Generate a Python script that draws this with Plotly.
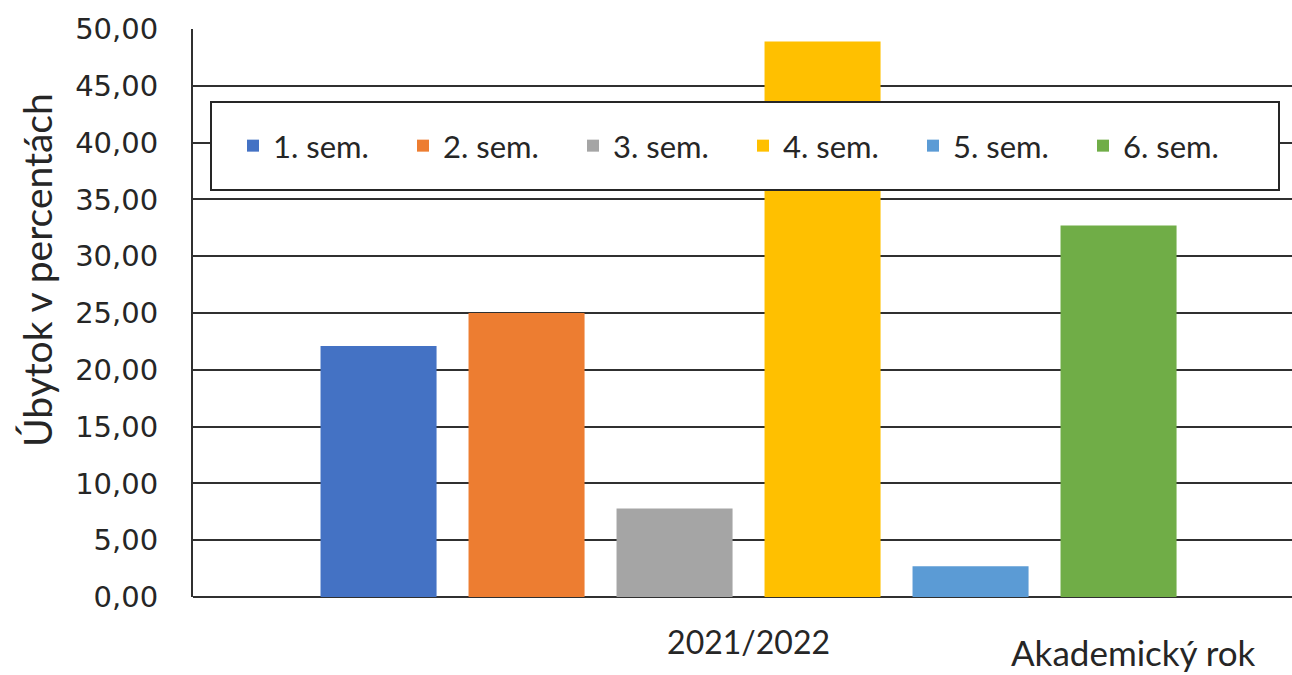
import plotly.graph_objects as go

year = ["2021/2022"]
semesters = ["1. sem.", "2. sem.", "3. sem.", "4. sem.", "5. sem.", "6. sem."]
values = [22.1, 25.0, 7.8, 48.9, 2.7, 32.7]
colors = ["#4472C4", "#ED7D31", "#A5A5A5", "#FFC000", "#5B9BD5", "#70AD47"]

W, H = 1292, 675
L, R, T, B = 193, 0, 29, 78

fig = go.Figure()
for name, val, col in zip(semesters, values, colors):
    fig.add_trace(go.Bar(x=year, y=[val], name=name, marker=dict(color=col, line=dict(width=0))))

pw = W - L - R
ph = H - T - B
def px_x(p):
    return (p - L) / pw
def px_y(p):
    return (H - B - p) / ph

# legend frame
fig.add_shape(type="rect", xref="paper", yref="paper",
              x0=px_x(211), x1=px_x(1279), y0=px_y(190), y1=px_y(102),
              line=dict(color="#262626", width=2), fillcolor="white", layer="above")

fig.update_layout(
    width=W, height=H,
    margin=dict(l=L, r=R, t=T, b=B),
    plot_bgcolor="white", paper_bgcolor="white",
    barmode="group", bargap=0.192, bargroupgap=0.216,
    separators=", ",
    font=dict(family="Lato", color="#262626"),
    showlegend=True,
    legend=dict(orientation="h", x=px_x(233), y=px_y(146), yanchor="middle", xanchor="left",
                bgcolor="rgba(0,0,0,0)", borderwidth=0,
                font=dict(family="Lato", size=31, color="#262626"),
                entrywidth=125, entrywidthmode="pixels"),
    xaxis=dict(range=[-0.5055, 0.4945], showgrid=False, showline=False, ticks="",
               tickfont=dict(family="Lato", size=32, color="#262626"), ticklabelstandoff=24),
    yaxis=dict(range=[0, 50], dtick=5, tickformat=".2f", showgrid=True,
               gridcolor="#303030", gridwidth=2, showline=True, linecolor="#303030", linewidth=2,
               zeroline=True, zerolinecolor="#303030", zerolinewidth=2, ticks="",
               tickfont=dict(family="DejaVu Sans", size=29, color="#262626"), ticklabelstandoff=27),
)

fig.add_annotation(text="Úbytok v percentách", xref="paper", yref="paper",
                   x=px_x(37), y=px_y(270), xanchor="center", yanchor="middle",
                   textangle=-90, showarrow=False,
                   font=dict(family="Lato", size=39, color="#262626"))
fig.add_annotation(text="Akademický rok", xref="paper", yref="paper",
                   x=px_x(1258), y=px_y(652), xanchor="right", yanchor="middle", showarrow=False,
                   font=dict(family="Lato", size=35, color="#262626"))

fig.write_html("out.html", config={"displayModeBar": False},
               post_script="document.body.style.margin='0';document.body.style.overflow='hidden';")
